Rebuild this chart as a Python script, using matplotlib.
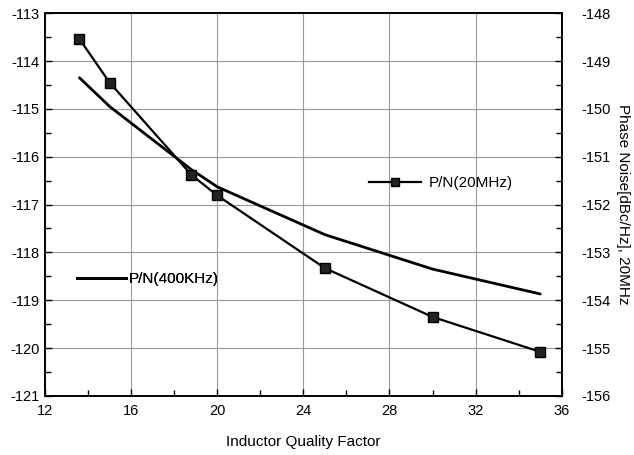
import matplotlib
matplotlib.use("Agg")
import matplotlib.pyplot as plt
from matplotlib.lines import Line2D

plt.rcParams['font.family'] = ['Liberation Sans', 'DejaVu Sans']
plt.rcParams['axes.unicode_minus'] = False

q_values = [13.6, 15, 18.8, 20, 25, 30, 35]
pn_400k = [-114.35, -114.95, -116.27, -116.63, -117.63, -118.35, -118.87]
pn_20m = [-148.54, -149.45, -151.38, -151.81, -153.33, -154.35, -155.08]

x_ticks = [12, 16, 20, 24, 28, 32, 36]
left_ticks = [-121, -120, -119, -118, -117, -116, -115, -114, -113]
right_ticks = [-156, -155, -154, -153, -152, -151, -150, -149, -148]

fig = plt.figure(figsize=(6.34, 4.55), dpi=100)
ax = fig.add_axes([0.071, 0.130, 0.815, 0.841])
ax2 = ax.twinx()

ax.plot(q_values, pn_400k, color='black', lw=2.0, solid_capstyle='round')
ax2.plot(q_values, pn_20m, color='black', lw=1.6, marker='s', markersize=6.5,
         markerfacecolor='#222222', markeredgecolor='black')

ax.set_xlim(12, 36)
ax.set_ylim(-121, -113)
ax2.set_ylim(-156, -148)
ax.set_xticks(x_ticks)
ax.set_xticks([14, 18, 22, 26, 30, 34], minor=True)
ax.set_yticks(left_ticks)
ax.set_yticks([v + 0.5 for v in left_ticks[:-1]], minor=True)
ax2.set_yticks(right_ticks)
ax2.set_yticks([v + 0.5 for v in right_ticks[:-1]], minor=True)

ax.grid(True, which='major', color='#9a9a9a', lw=0.8)
for a in (ax, ax2):
    a.tick_params(which='both', direction='in', labelsize=10.5, width=1.0)
    a.tick_params(which='major', length=5)
    a.tick_params(which='minor', length=4)
    for s in a.spines.values():
        s.set_linewidth(1.2)
ax.tick_params(axis='y', pad=4)
ax.tick_params(axis='x', pad=6)
ax2.tick_params(axis='y', pad=14)

ax.set_xlabel('Inductor Quality Factor', fontsize=11, labelpad=12)
ax2.set_ylabel('Phase Noise[dBc/Hz], 20MHz', fontsize=11, rotation=-90, labelpad=14)

h1 = Line2D([], [], color='black', lw=2.0)
h2 = Line2D([], [], color='black', lw=1.6, marker='s', markersize=5.5, markerfacecolor='#222222')
leg1 = ax.legend([h1], ['P/N(400KHz)'], loc='center left', bbox_to_anchor=(0.035, 0.305),
                 frameon=False, fontsize=11, handlelength=3.2, handletextpad=0.2)
ax.add_artist(leg1)
ax2.legend([h2], ['P/N(20MHz)'], loc='center left', bbox_to_anchor=(0.60, 0.555),
           frameon=False, fontsize=11, handlelength=3.4, handletextpad=0.5)

fig.savefig('out.png', dpi=100)
